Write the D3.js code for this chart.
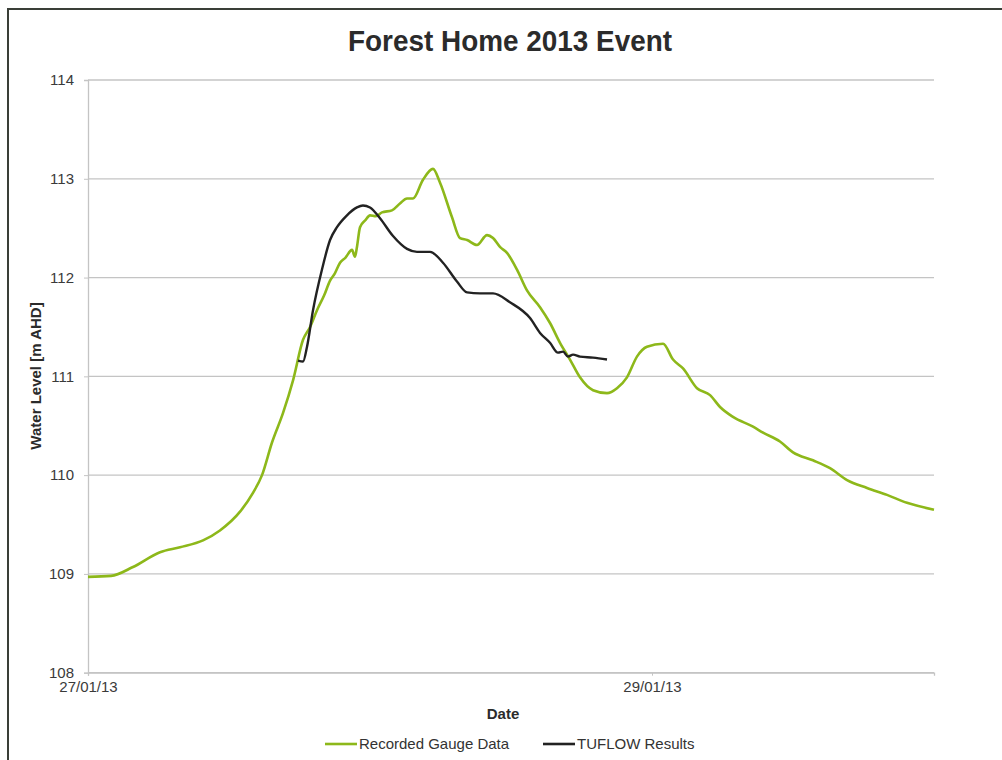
<!DOCTYPE html>
<html><head><meta charset="utf-8">
<script src="https://cdn.jsdelivr.net/npm/d3@7"></script>
<style>body{margin:0;background:#fff;} svg{display:block;font-family:"Liberation Sans",Arial,sans-serif;}</style>
</head><body>
<svg id="chart" width="1002" height="760"></svg>
<script>
// Data (hours since 27/01/13 00:00, water level m AHD)
const gaugeHours = [0,1.96,3.83,6.13,7.83,9.79,11.23,12.94,14.04,14.81,15.66,16.6,17.45,18.3,18.9,19.49,20.1,20.6,21.0,21.45,21.9,22.47,22.72,22.89,23.15,23.6,24.0,24.5,25.02,25.87,26.55,27.15,27.66,28.51,29.36,29.96,30.98,31.66,32.26,33.11,33.96,34.47,35.06,35.66,36.51,37.36,38.47,39.32,40.17,41.02,41.87,42.98,44.17,45.02,45.87,46.72,47.57,48.94,49.79,50.64,51.83,52.94,53.79,54.89,56.6,57.45,58.89,60.0,61.7,63.15,64.6,66.3,68.0,69.7,72.0];
const gaugeLevels = [108.97,108.98,109.07,109.22,109.27,109.34,109.44,109.63,109.82,110.0,110.33,110.63,110.96,111.37,111.5,111.67,111.82,111.97,112.04,112.15,112.2,112.28,112.21,112.31,112.51,112.58,112.63,112.62,112.66,112.68,112.75,112.8,112.8,112.99,113.1,112.96,112.61,112.4,112.38,112.33,112.43,112.4,112.31,112.25,112.08,111.87,111.7,111.54,111.34,111.17,110.99,110.86,110.83,110.88,110.99,111.2,111.3,111.33,111.17,111.08,110.88,110.81,110.69,110.59,110.49,110.43,110.34,110.23,110.15,110.07,109.95,109.87,109.8,109.72,109.65];
const tuflowHours = [17.87,18.3,18.64,19.15,19.91,20.6,21.19,22.04,22.89,23.4,24.0,24.85,25.96,27.15,28.0,29.11,30.21,31.4,32.26,33.36,34.47,35.91,37.62,38.47,39.32,40.0,40.43,40.85,41.28,41.87,42.98,44.17];
const tuflowLevels = [111.16,111.15,111.3,111.67,112.08,112.38,112.51,112.63,112.71,112.73,112.71,112.6,112.42,112.29,112.26,112.26,112.15,111.96,111.85,111.84,111.84,111.75,111.59,111.44,111.34,111.24,111.25,111.2,111.22,111.2,111.19,111.17];
const yTicks = [108,109,110,111,112,113,114];
const xTickDates = ["2013-01-27","2013-01-29"];
const seriesNames = ["Recorded Gauge Data","TUFLOW Results"];
const seriesColors = ["#8db81a","#222222"];

const t0 = new Date(2013,0,27);
const toDate = h => new Date(t0.getTime() + h*3600000);
const parse = s => { const [y,m,d] = s.split("-").map(Number); return new Date(y,m-1,d); };

const svg = d3.select("#chart");
const m = {left:88, right:934, top:80, bottom:672.7};
const x = d3.scaleTime().domain([t0, new Date(2013,0,30)]).range([m.left, m.right]);
const y = d3.scaleLinear().domain([108,114]).range([m.bottom, m.top]);

// frame
svg.append("rect").attr("x",8).attr("y",9).attr("width",1100).attr("height",900)
  .attr("fill","none").attr("stroke","#3a3f38").attr("stroke-width",2);

// gridlines
svg.append("g").selectAll("line").data(yTicks).join("line")
  .attr("x1",m.left).attr("x2",m.right).attr("y1",d=>y(d)).attr("y2",d=>y(d))
  .attr("stroke","#c4c4c4").attr("stroke-width",1.3);

// y axis
const yAxis = svg.append("g").attr("transform",`translate(${m.left},0)`)
  .call(d3.axisLeft(y).tickValues(yTicks).tickFormat(d3.format("d")).tickSize(4).tickPadding(10));
yAxis.select(".domain").attr("stroke","#c4c4c4").attr("stroke-width",1.3);
yAxis.selectAll(".tick line").attr("stroke","#c4c4c4");
yAxis.selectAll("text").attr("font-size",15).attr("fill","#3a3a3a").attr("font-family","Liberation Sans, Arial, sans-serif");

// x axis
const xAxis = svg.append("g").attr("transform",`translate(0,${m.bottom})`)
  .call(d3.axisBottom(x).tickValues(xTickDates.map(parse)).tickFormat(d3.timeFormat("%d/%m/%y")).tickSize(3).tickPadding(6));
xAxis.select(".domain").attr("stroke","#c4c4c4").attr("stroke-width",1.3);
xAxis.selectAll(".tick line").attr("stroke","#c4c4c4");
xAxis.selectAll("text").attr("font-size",15).attr("fill","#3a3a3a").attr("font-family","Liberation Sans, Arial, sans-serif");

// lines
const line = d3.line().x(d=>x(toDate(d[0]))).y(d=>y(d[1])).curve(d3.curveMonotoneX);
const gauge = gaugeHours.map((h,i)=>[h,gaugeLevels[i]]);
const tuflow = tuflowHours.map((h,i)=>[h,tuflowLevels[i]]);
svg.append("path").datum(gauge).attr("d",line).attr("fill","none")
  .attr("stroke",seriesColors[0]).attr("stroke-width",2.6).attr("stroke-linejoin","round");
svg.append("path").datum(tuflow).attr("d",line).attr("fill","none")
  .attr("stroke",seriesColors[1]).attr("stroke-width",2.4).attr("stroke-linejoin","round");

// title
svg.append("text").attr("x",510).attr("y",51).attr("text-anchor","middle")
  .attr("font-size",30).attr("font-weight","bold").attr("fill","#2b2b2b")
  .attr("textLength",324).attr("lengthAdjust","spacingAndGlyphs")
  .text("Forest Home 2013 Event");

// axis titles
svg.append("text").attr("x",503).attr("y",719).attr("text-anchor","middle")
  .attr("font-size",15).attr("font-weight","bold").attr("fill","#2b2b2b").text("Date");
svg.append("text").attr("transform","translate(41,376) rotate(-90)").attr("text-anchor","middle")
  .attr("font-size",15).attr("font-weight","bold").attr("fill","#2b2b2b").text("Water Level [m AHD]");

// legend
const legX = [325,543];
const lg = svg.append("g").selectAll("g").data(seriesNames).join("g")
  .attr("transform",(d,i)=>`translate(${legX[i]},744)`);
lg.append("line").attr("x1",0).attr("x2",32).attr("y1",0).attr("y2",0)
  .attr("stroke",(d,i)=>seriesColors[i]).attr("stroke-width",2.6);
lg.append("text").attr("x",34).attr("y",5).attr("font-size",15).attr("fill","#333").text(d=>d);
</script>
</body></html>
